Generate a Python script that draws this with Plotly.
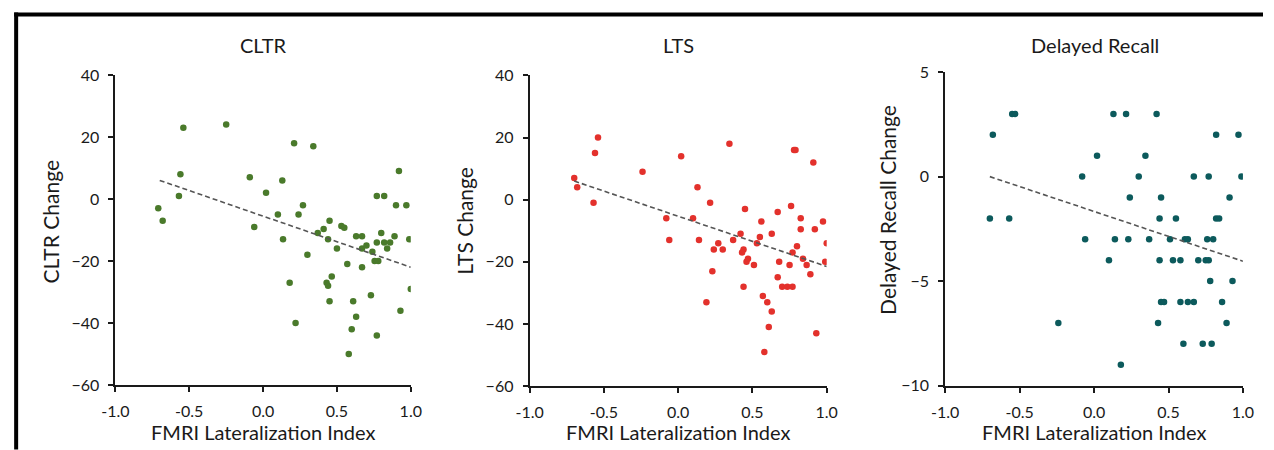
import plotly.graph_objects as go

# ---------------- data ----------------
cltr_x = [-0.54, -0.25, 0.21, 0.34, -0.56, 0.92, -0.09, 0.13, 0.02, -0.57, 0.77, 0.82,
          -0.71, -0.68, 0.27, 0.10, 0.24, 0.90, 0.97, 0.45, 0.53, 0.55, 0.41, -0.06,
          0.135, 0.37, 0.44, 0.50, 0.63, 0.67, 0.67, 0.70, 0.74, 0.80, 0.77, 0.82, 0.86,
          0.84, 0.89, 0.99, 0.755, 0.78, 0.57, 0.67, 0.30, 0.18, 0.43, 0.44, 0.465, 1.0,
          0.73, 0.45, 0.61, 0.93, 0.63, 0.22, 0.60, 0.77, 0.58]
cltr_y = [23, 24, 18, 17, 8, 9, 7, 6, 2, 1, 1, 1,
          -3, -7, -2, -5, -5, -2, -2, -7, -8.7, -9.3, -9.7, -9,
          -13, -11, -13, -16, -12, -12, -16, -15, -17, -11, -14, -14, -14,
          -16, -12, -13, -20, -20, -21, -22, -18, -27, -27, -28, -25, -29,
          -31, -33, -33, -36, -38, -40, -42, -44, -50]

lts_x = [-0.54, -0.56, -0.70, -0.68, -0.57, -0.24, 0.02, 0.345, 0.78, 0.79, 0.91, 0.13,
         0.215, 0.45, 0.76, -0.08, 0.10, 0.56, 0.67, 0.825, 0.975, 0.825, 0.92, -0.06,
         0.14, 0.27, 0.24, 0.30, 0.37, 0.42, 0.44, 0.43, 0.46, 0.47, 0.51, 0.53, 0.55,
         0.63, 0.23, 0.44, 0.68, 0.67, 0.70, 0.735, 0.77, 0.75, 0.77, 0.80, 0.84, 0.865,
         0.89, 0.99, 1.0, 0.57, 0.60, 0.63, 0.61, 0.19, 0.93, 0.58]
lts_y = [20, 15, 7, 4, -1, 9, 14, 18, 16, 16, 12, 4,
         -1, -3, -2, -6, -6, -7, -4, -6, -7, -9.5, -9.5, -13,
         -13, -14, -16, -16, -13, -11, -16, -17, -20, -19, -21, -14, -12,
         -11, -23, -28, -20, -25, -28, -28, -28, -21, -17, -15, -19, -21,
         -24, -20, -14, -31, -33, -36, -41, -33, -43, -49]

dr_x = [-0.55, -0.53, -0.68, 0.13, 0.215, 0.42, 0.02, 0.345, 0.82, 0.97, -0.08, 0.30,
        0.67, 0.77, 0.99, 0.24, 0.45, 0.91, -0.70, -0.57, 0.44, 0.55, 0.82, 0.84,
        -0.06, 0.14, 0.23, 0.37, 0.51, 0.61, 0.63, 0.76, 0.80, 0.10, 0.44, 0.53, 0.58,
        0.70, 0.75, 0.77, 0.78, 0.93, 0.45, 0.47, 0.58, 0.63, 0.67, 0.86, -0.24, 0.43,
        0.89, 0.60, 0.73, 0.79, 0.18]
dr_y = [3, 3, 2, 3, 3, 3, 1, 1, 2, 2, 0, 0,
        0, 0, 0, -1, -1, -1, -2, -2, -2, -2, -2, -2,
        -3, -3, -3, -3, -3, -3, -3, -3, -3, -4, -4, -4, -4,
        -4, -4, -4, -5, -5, -6, -6, -6, -6, -6, -6, -7, -7,
        -7, -8, -8, -8, -9]

trend_x = [-0.70, 1.0]
cltr_trend = [6, -22]
lts_trend = [6, -21.5]
dr_trend = [0, -4.05]

x_ticks = [-1.0, -0.5, 0.0, 0.5, 1.0]
x_ticktext = ["-1.0", "-0.5", "0.0", "0.5", "1.0"]

panel_titles = ["CLTR", "LTS", "Delayed Recall"]
y_titles = ["CLTR Change", "LTS Change", "Delayed Recall Change"]
x_title = "FMRI Lateralization Index"

# ---------------- layout helpers ----------------
W, H = 1274, 450
FONT = "Lato, 'Open Sans', sans-serif"
INK = "#1a1a1a"

# target picture position (px) -> figure position (px), compensating the
# inset the photograph is taken with
def rx(t):
    return t / 0.98454 - 10

def ry(t):
    return t / 0.95745 - 10

def px(t):
    return rx(t) / W

def py(t):
    return 1 - ry(t) / H

panels = [
    dict(xd=[px(111.7), px(408.3)], yd=[py(384.5), py(74.5)], yr=[-60, 40], dt=20,
         x=cltr_x, y=cltr_y, t=cltr_trend, color="#4a7a2b",
         tcx=260, ytx=47, yty=221),
    dict(xd=[px(527.7), px(826)], yd=[py(385.5), py(75)], yr=[-60, 40], dt=20,
         x=lts_x, y=lts_y, t=lts_trend, color="#e3312c",
         tcx=677, ytx=462, yty=220),
    dict(xd=[px(945), px(1244)], yd=[py(385), py(71.7)], yr=[-10, 5], dt=5,
         x=dr_x, y=dr_y, t=dr_trend, color="#0c5a5c",
         tcx=1095, ytx=887, yty=209),
]

fig = go.Figure()
annotations = []

for i, p in enumerate(panels):
    n = "" if i == 0 else str(i + 1)
    xa, ya = "x" + n, "y" + n
    fig.add_trace(go.Scatter(x=p["x"], y=p["y"], mode="markers", xaxis=xa, yaxis=ya,
                             marker=dict(size=6.5, color=p["color"]), showlegend=False))
    fig.add_trace(go.Scatter(x=trend_x, y=p["t"], mode="lines", xaxis=xa, yaxis=ya,
                             line=dict(color="#555555", width=1.6, dash="5px,3px"),
                             showlegend=False))
    axis_common = dict(showline=True, linecolor=INK, linewidth=2, ticks="outside",
                       ticklen=5, tickwidth=1.6, tickcolor=INK, showgrid=False,
                       zeroline=False, ticklabelstandoff=6,
                       tickfont=dict(family=FONT, size=16, color=INK))
    fig.update_layout(**{
        "xaxis" + n: dict(domain=p["xd"], range=[-1, 1], tickvals=x_ticks,
                          ticktext=x_ticktext, anchor=ya, **axis_common),
        "yaxis" + n: dict(domain=p["yd"], range=p["yr"], dtick=p["dt"], anchor=xa,
                          **axis_common),
    })
    annotations.append(dict(text=panel_titles[i], x=px(p["tcx"]), y=py(45), xref="paper",
                            yref="paper", xanchor="center", yanchor="middle", showarrow=False,
                            font=dict(family=FONT, size=20, color=INK)))
    annotations.append(dict(text=x_title, x=(p["xd"][0] + p["xd"][1]) / 2, y=0,
                            xref="paper", yref="paper", xanchor="center", yanchor="bottom",
                            yshift=-5, showarrow=False,
                            font=dict(family=FONT, size=20, color=INK)))
    annotations.append(dict(text=y_titles[i], x=px(p["ytx"]), y=py(p["yty"]), xref="paper",
                            yref="paper", xanchor="center", yanchor="middle", textangle=-90,
                            showarrow=False, font=dict(family=FONT, size=21, color=INK)))

shapes = [
    dict(type="line", xref="paper", yref="paper", x0=px(10), x1=1, y0=py(14), y1=py(14),
         line=dict(color="black", width=4)),
    dict(type="line", xref="paper", yref="paper", x0=px(12), x1=px(12), y0=py(12), y1=-0.02,
         line=dict(color="black", width=4)),
]

fig.update_layout(width=W, height=H, margin=dict(l=0, r=0, t=0, b=0),
                  paper_bgcolor="white", plot_bgcolor="white", showlegend=False,
                  annotations=annotations, shapes=shapes,
                  font=dict(family=FONT, color=INK))

fig.write_html("out.html", config={"displayModeBar": False},
               post_script="document.body.style.margin='0';document.body.style.overflow='hidden';")
